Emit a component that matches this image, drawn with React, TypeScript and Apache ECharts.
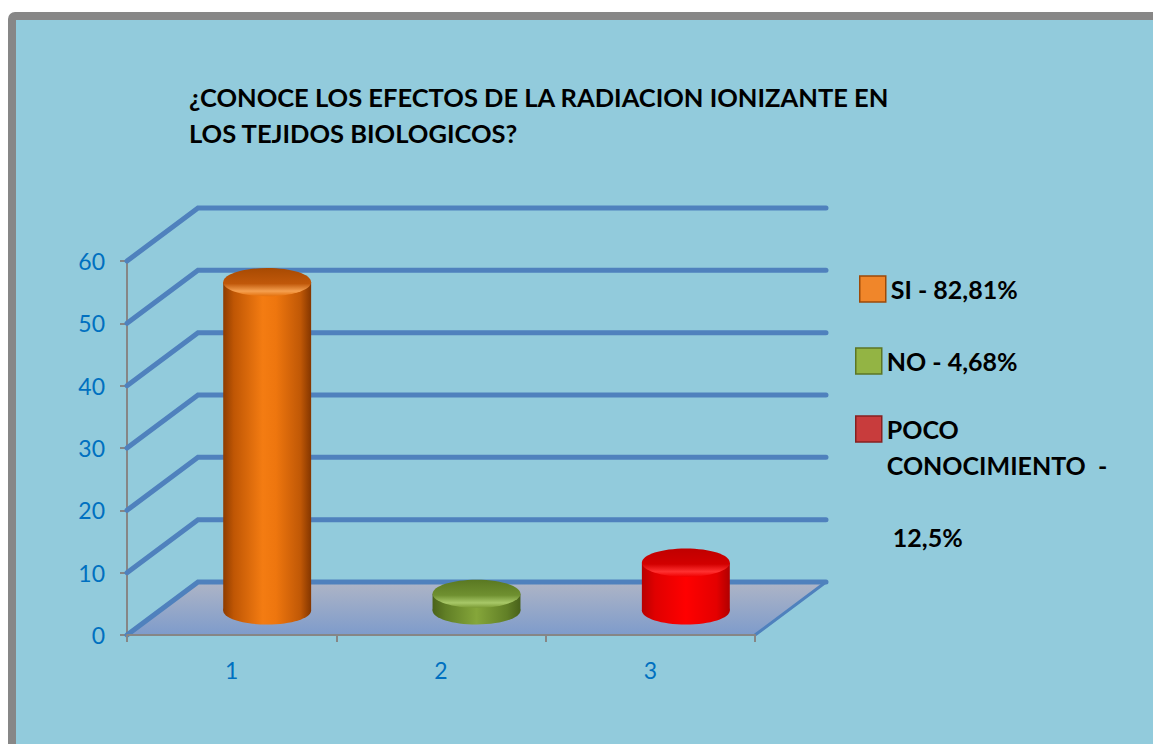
import React, { useEffect, useRef } from "react";
import * as echarts from "echarts";

const TITLE_LINES = ["¿CONOCE LOS EFECTOS DE LA RADIACION IONIZANTE EN", "LOS TEJIDOS BIOLOGICOS?"];
const CATEGORIES = ["1", "2", "3"];
const SERIES_NAMES = ["SI - 82,81%", "NO - 4,68%", "POCO CONOCIMIENTO - 12,5%"];
const VALUES = [53, 3, 8];
const Y_TICKS = [0, 10, 20, 30, 40, 50, 60];

const FONT = "Lato, 'Open Sans', sans-serif";
const DX = 71; // depth offset x
const DY = 53; // depth offset y
const GRID_BLUE = "#4F81BD";

const BODY_STOPS = [
  [
    [0, "#8E3C00"],
    [0.12, "#BF5604"],
    [0.45, "#F47C12"],
    [0.6, "#EE760E"],
    [0.88, "#C05806"],
    [1, "#843600"],
  ],
  [
    [0, "#4A631A"],
    [0.15, "#617F26"],
    [0.5, "#85A63A"],
    [0.85, "#617F26"],
    [1, "#48611A"],
  ],
  [
    [0, "#B80000"],
    [0.15, "#E00000"],
    [0.5, "#FF0000"],
    [0.85, "#E40000"],
    [1, "#B00000"],
  ],
];
const TOP_STOPS = [
  [
    [0, "#A84A02"],
    [0.55, "#C0580A"],
    [0.82, "#F5A050"],
    [1, "#E4700C"],
  ],
  [
    [0, "#5A7822"],
    [0.55, "#6F9030"],
    [0.82, "#A8C868"],
    [1, "#7A9A34"],
  ],
  [
    [0, "#C00000"],
    [0.55, "#D20000"],
    [0.82, "#FF3030"],
    [1, "#F00000"],
  ],
];
const LEGEND_COLORS = [
  { color: "#F0862A", borderColor: "#9C4A08" },
  { color: "#93B444", borderColor: "#5C7624" },
  { color: "#C83C3C", borderColor: "#862020" },
];

function grad(x2: number, y2: number, stops: any[]) {
  return new echarts.graphic.LinearGradient(
    0,
    0,
    x2,
    y2,
    stops.map((s) => ({ offset: s[0], color: s[1] }))
  );
}

export default function App() {
  const ref = useRef<HTMLDivElement>(null);

  useEffect(() => {
    if (!ref.current) return;
    const chart = echarts.init(ref.current, undefined, { renderer: "svg" });

    const wallSeries = {
      type: "custom",
      name: "wall",
      z: 1,
      silent: true,
      data: Y_TICKS.map((v) => [0, v]),
      renderItem: (params: any, api: any) => {
        const v = api.value(1);
        const cs = params.coordSys;
        const left = cs.x;
        const right = cs.x + cs.width;
        const y = api.coord([0, v])[1];
        const children: any[] = [];
        if (v === 0) {
          children.push({
            type: "polygon",
            shape: {
              points: [
                [left, y],
                [right, y],
                [right + DX, y - DY],
                [left + DX, y - DY],
              ],
            },
            style: { fill: grad(0, 1, [[0, "#AEB5C6"], [1, "#7E9BCB"]]) },
          });
          children.push({
            type: "line",
            shape: { x1: right + DX, y1: y - DY, x2: right, y2: y },
            style: { stroke: GRID_BLUE, lineWidth: 3, lineCap: "round" },
          });
        }
        children.push({
          type: "polyline",
          shape: {
            points: [
              [left, y],
              [left + DX, y - DY],
              [right + DX, y - DY],
            ],
          },
          style: { stroke: GRID_BLUE, lineWidth: 5, fill: null, lineCap: "round", lineJoin: "miter" },
        });
        return { type: "group", children };
      },
    };

    const barSeries = VALUES.map((val, i) => ({
      type: "custom",
      name: SERIES_NAMES[i],
      z: 3,
      data: [[i, val]],
      itemStyle: { color: LEGEND_COLORS[i].color },
      renderItem: (params: any, api: any) => {
        const idx = api.value(0);
        const v = api.value(1);
        const base = api.coord([idx, 0]);
        const top = api.coord([idx, v]);
        const bw = api.size([1, 0])[0];
        const rx = bw * 0.21;
        const ry = rx * 0.32;
        const cx = base[0] + DX / 2;
        const by = base[1] - DY / 2 + 2;
        const ty = top[1] - DY / 2 + 4;
        return {
          type: "group",
          children: [
            {
              type: "ellipse",
              shape: { cx, cy: by, rx, ry },
              style: { fill: grad(1, 0, BODY_STOPS[i]) },
            },
            {
              type: "rect",
              shape: { x: cx - rx, y: ty, width: rx * 2, height: by - ty },
              style: { fill: grad(1, 0, BODY_STOPS[i]) },
            },
            {
              type: "ellipse",
              shape: { cx, cy: ty, rx, ry },
              style: { fill: grad(0, 1, TOP_STOPS[i]) },
            },
          ],
        };
      },
    }));

    const legendText = { color: "#000", fontSize: 25, fontWeight: "bold", fontFamily: FONT, lineHeight: 36 };
    const legendPos = [
      { left: 859, top: 271 },
      { left: 855, top: 343 },
      { left: 855, top: 429 - 126 },
    ];
    const legends = SERIES_NAMES.map((n, i) => ({
      orient: "vertical",
      left: legendPos[i].left,
      top: legendPos[i].top,
      padding: 0,
      itemWidth: 26,
      itemHeight: 26,
      icon: "rect",
      selectedMode: false,
      data: [{ name: n, itemStyle: { ...LEGEND_COLORS[i], borderWidth: 1.5 } }],
      textStyle: legendText,
      formatter: (name: string) =>
        i === 2 ? "\n\n\nPOCO\nCONOCIMIENTO  -\n\n 12,5%" : name,
    }));

    chart.setOption({
      animation: false,
      backgroundColor: "#FFFFFF",
      graphic: [
        {
          type: "rect",
          z: -10,
          silent: true,
          shape: { x: 12, y: 16, width: 1300, height: 900, r: 3 },
          style: { fill: "#92CBDC", stroke: "#878787", lineWidth: 8 },
        },
      ],
      title: {
        text: TITLE_LINES.join("\n"),
        left: 189,
        top: 79,
        padding: 0,
        textStyle: {
          color: "#000",
          fontSize: 25.5,
          fontWeight: "bold",
          fontFamily: FONT,
          lineHeight: 36,
        },
      },
      legend: legends,
      grid: { left: 127, top: 261, width: 628, height: 374, containLabel: false },
      xAxis: {
        type: "category",
        data: CATEGORIES,
        z: 5,
        axisLine: { show: true, lineStyle: { color: "#868686", width: 2 } },
        axisTick: { show: true, length: 7, lineStyle: { color: "#868686", width: 2 } },
        axisLabel: { color: "#0070C0", fontSize: 23, fontFamily: FONT, margin: 23 },
        splitLine: { show: false },
      },
      yAxis: {
        type: "value",
        min: 0,
        max: 60,
        interval: 10,
        z: 0,
        axisLine: { show: true, lineStyle: { color: "#868686", width: 2 } },
        axisTick: { show: true, length: 7, lineStyle: { color: "#868686", width: 2 } },
        axisLabel: { color: "#0070C0", fontSize: 23, fontFamily: FONT, margin: 22 },
        splitLine: { show: false },
      },
      series: [wallSeries, ...barSeries],
    });

    return () => chart.dispose();
  }, []);

  return (
    <div
      ref={ref}
      style={{ position: "fixed", left: 0, top: 0, width: 1153, height: 744 }}
    />
  );
}
